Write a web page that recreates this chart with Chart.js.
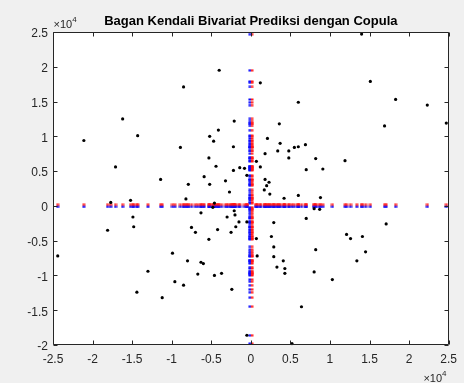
<!DOCTYPE html>
<html>
<head>
<meta charset="utf-8">
<script src="https://cdn.jsdelivr.net/npm/chart.js@4/dist/chart.umd.min.js"></script>
<style>
  html, body { margin: 0; padding: 0; background: #f0f0f0; }
  canvas { display: block; }
</style>
</head>
<body>
<canvas id="kendaliChart" width="464" height="383"></canvas>
<script>
// predicted pairs (x, y)
const predX = [
  -4000, -8500, -16200, -2100, -4100, -21100, -14300, -5200, -4700, -8900,
  -2200, -5300, -17100, -4400, -2200, -1400, -11400, -5900, -3200, -7900,
  -5200, -2700, -15200, -17700, -8200, -4600, -6300, -14900, -2100, -2000,
  -3000, -1500, -14800, -7500, -1900, -18100, -4200, -7000, -2500, -5300,
  -24400, -9900, -8000, -6300, -6000, -13000, -6700, -3700, -4600, -9600,
  -8500, -2400, -14400, -11200, 14000, 1200, 15100, 18300, 6000, 22300,
  24700, 3600, 16900, 2100, 3700, 3400, 5500, 6000, 6900, 4800,
  1800, 4800, 8200, 11900, 700, 1200, 7000, 9100, -800, -500,
  1800, 2300, 2000, 1700, 2400, 4200, 6000, 8800, 8000, 8700,
  -500, 2900, 7000, 17100, 2600, 700, 12100, 12600, 14100, 2900,
  8200, 14500, 800, 2900, 4100, 13400, 3300, 4300, 4300, 8000,
  10300, 6400, -500, 5200, -4800
];
const predY = [
  19500, 17100, 12500, 12200, 10900, 9400, 10100, 10000, 9300, 8400,
  8500, 6900, 5600, 5700, 5100, 5500, 3800, 4200, 3600, 3100,
  3100, 2000, 800, 500, 1000, 400, -1000, -1600, -700, -1300,
  -1600, -2300, -3000, -3100, -3000, -3500, -3400, -3800, -3800, -4800,
  -7200, -6800, -7900, -8100, -8300, -9400, -9800, -9700, -10000, -10900,
  -11400, -12000, -12400, -13200, 24700, 17700, 17900, 15300, 14900, 14500,
  11900, 11800, 11500, 9700, 9000, 7900, 8400, 8500, 8800, 7900,
  7500, 6900, 6800, 6500, 6400, 5600, 5200, 5300, 5400, 4400,
  3800, 3400, 2900, 2300, 1700, 1100, 1500, 1200, -400, -500,
  -2300, -2400, -1800, -2600, -4400, -4700, -4100, -4700, -4400, -5900,
  -6300, -6600, -7200, -7300, -7900, -7900, -8800, -9000, -9700, -9500,
  -10600, -14500, -18600, -19800, -200
];

const xTicks = [-25000, -20000, -15000, -10000, -5000, 0, 5000, 10000, 15000, 20000, 25000];
const yTicks = [-20000, -15000, -10000, -5000, 0, 5000, 10000, 15000, 20000, 25000];
const titleText = 'Bagan Kendali Bivariat Prediksi dengan Copula';

const FONT = 'Liberation Sans, Arial, sans-serif';
const AXIS_COLOR = '#262626';

// points and their projections on both axes
const pairs = predX.map((x, i) => ({ x: x, y: predY[i] }));
const onXAxis = predX.map(x => ({ x: x, y: 0 }));
const onYAxis = predY.map(y => ({ x: 0, y: y }));

// small two-colour marks, blue + red side by side
function markImage(w, h, parts) {
  const c = document.createElement('canvas');
  c.width = w;
  c.height = h;
  const g = c.getContext('2d');
  parts.forEach(p => {
    g.fillStyle = p[0];
    g.fillRect(p[1], p[2], p[3], p[4]);
  });
  return c;
}
const BLUE = 'rgb(10,10,255)';
const RED = 'rgb(255,20,20)';
const markH = markImage(4, 5, [[RED, 0.5, 0.5, 3, 2], [BLUE, 0.5, 2.5, 3, 2]]);
const markV = markImage(6, 3, [[BLUE, 0.5, 0.5, 2.5, 2], [RED, 3, 0.5, 2.5, 2]]);

function fmt(v) {
  return String(Number((v / 1e4).toFixed(1)));
}

// matlab style box: grey figure, white axes, inward ticks, x10^4 labels
const matlabAxes = {
  id: 'matlabAxes',
  beforeDraw(chart) {
    const { ctx, chartArea: a } = chart;
    ctx.save();
    ctx.fillStyle = '#f0f0f0';
    ctx.fillRect(0, 0, chart.width, chart.height);
    ctx.fillStyle = '#ffffff';
    ctx.fillRect(a.left, a.top, a.right - a.left, a.bottom - a.top);
    ctx.restore();
  },
  afterDraw(chart) {
    const { ctx, chartArea: a, scales } = chart;
    const L = Math.round(a.left) + 0.5, R = Math.round(a.right) - 0.5;
    const T = Math.round(a.top) + 0.5, B = Math.round(a.bottom) - 0.5;
    ctx.save();
    ctx.strokeStyle = AXIS_COLOR;
    ctx.lineWidth = 1;
    ctx.beginPath();
    ctx.rect(L, T, R - L, B - T);
    const len = 4;
    xTicks.forEach(v => {
      const px = Math.round(scales.x.getPixelForValue(v)) + 0.5;
      ctx.moveTo(px, B); ctx.lineTo(px, B - len);
      ctx.moveTo(px, T); ctx.lineTo(px, T + len);
    });
    yTicks.forEach(v => {
      const py = Math.round(scales.y.getPixelForValue(v)) + 0.5;
      ctx.moveTo(L, py); ctx.lineTo(L + len, py);
      ctx.moveTo(R, py); ctx.lineTo(R - len, py);
    });
    ctx.stroke();

    // exponent labels
    ctx.fillStyle = AXIS_COLOR;
    ctx.textBaseline = 'alphabetic';
    ctx.textAlign = 'left';
    ctx.font = '11px ' + FONT;
    const w1 = ctx.measureText('\u00d710').width;
    ctx.fillText('\u00d710', L, 28);
    ctx.font = '8px ' + FONT;
    ctx.fillText('4', L + w1, 22);
    const w4 = ctx.measureText('4').width;
    ctx.font = '11px ' + FONT;
    ctx.fillText('\u00d710', R - w4 - w1 - 2, 382);
    ctx.font = '8px ' + FONT;
    ctx.fillText('4', R - w4 - 2, 376);
    ctx.restore();
  }
};

const ctx = document.getElementById('kendaliChart').getContext('2d');
const chart = new Chart(ctx, {
  type: 'scatter',
  data: {
    datasets: [
      {
        label: 'Prediksi',
        data: pairs,
        pointRadius: 1.6,
        pointBorderWidth: 0,
        pointBackgroundColor: '#000',
        clip: 4
      },
      {
        label: 'Marginal X',
        data: onXAxis,
        pointStyle: markH,
        clip: 4
      },
      {
        label: 'Marginal Y',
        data: onYAxis,
        pointStyle: markV,
        clip: 4
      }
    ]
  },
  options: {
    responsive: false,
    animation: false,
    devicePixelRatio: 1,
    events: [],
    layout: { padding: { left: 8, right: 15, top: 0, bottom: 0 } },
    plugins: {
      legend: { display: false },
      tooltip: { enabled: false },
      title: {
        display: true,
        text: titleText,
        fullSize: false,
        color: '#000',
        font: { family: FONT, size: 13, weight: 'bold' },
        padding: { top: 14, bottom: 2.4 }
      }
    },
    scales: {
      x: {
        type: 'linear',
        min: -25000,
        max: 25000,
        grid: { display: false, drawTicks: false },
        border: { display: false },
        afterBuildTicks: s => { s.ticks = xTicks.map(v => ({ value: v })); },
        afterFit: s => { s.height = 38; },
        ticks: {
          autoSkip: false,
          maxRotation: 0,
          padding: 7,
          color: AXIS_COLOR,
          font: { family: FONT, size: 12 },
          callback: v => fmt(v)
        }
      },
      y: {
        type: 'linear',
        min: -20000,
        max: 25000,
        grid: { display: false, drawTicks: false },
        border: { display: false },
        afterBuildTicks: s => { s.ticks = yTicks.map(v => ({ value: v })); },
        afterFit: s => { s.width = 45; },
        ticks: {
          autoSkip: false,
          padding: 5,
          labelOffset: 2,
          color: AXIS_COLOR,
          font: { family: FONT, size: 12 },
          callback: v => fmt(v)
        }
      }
    }
  },
  plugins: [matlabAxes]
});
</script>
</body>
</html>
